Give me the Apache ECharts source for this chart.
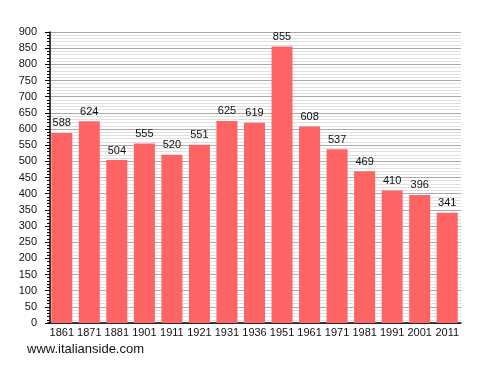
<!DOCTYPE html>
<html><head><meta charset="utf-8">
<script src="https://cdn.jsdelivr.net/npm/echarts@6/dist/echarts.min.js"></script>
<style>html,body{margin:0;padding:0;background:#fff}#c{width:488px;height:373px}</style>
</head><body><div id="c"></div>
<script>
var years = ['1861','1871','1881','1901','1911','1921','1931','1936','1951','1961','1971','1981','1991','2001','2011'];
var population = [588,624,504,555,520,551,625,619,855,608,537,469,410,396,341];
var yTicks = {min:0, max:900, interval:50};
var sourceText = 'www.italianside.com';
var FONT = '"Liberation Sans", Arial, sans-serif';

var chart = echarts.init(document.getElementById('c'), null, {renderer:'canvas'});
chart.setOption({
  animation:false,
  backgroundColor:'#fff',
  grid:{left:48, right:27, top:32, bottom:50, containLabel:false},
  graphic:[{type:'text', left:27, top:343, style:{text:sourceText, fontSize:13, fontFamily:FONT, fill:'#111'}}],
  xAxis:{
    type:'category', data:years,
    axisLine:{lineStyle:{color:'#000', width:1.5}},
    axisTick:{show:false},
    axisLabel:{color:'#111', fontSize:11, fontFamily:FONT, margin:4, interval:0}
  },
  yAxis:{
    type:'value', min:yTicks.min, max:yTicks.max, interval:yTicks.interval, offset:-2,
    axisLine:{show:true, lineStyle:{color:'#000', width:1.5}},
    axisTick:{show:true, length:5, lineStyle:{color:'#000'}},
    minorTick:{show:true, splitNumber:5, length:3, lineStyle:{color:'#000'}},
    splitLine:{show:true, lineStyle:{color:'#aaa', width:1}},
    minorSplitLine:{show:true, lineStyle:{color:'#e0e0e0', width:1}},
    axisLabel:{color:'#111', fontSize:11, fontFamily:FONT, margin:13}
  },
  series:[{
    type:'bar', data:population, barWidth:21,
    itemStyle:{color:'#ff6464'},
    label:{show:true, position:'top', distance:4, color:'#111', fontSize:11, fontFamily:FONT}
  }]
});
</script></body></html>
